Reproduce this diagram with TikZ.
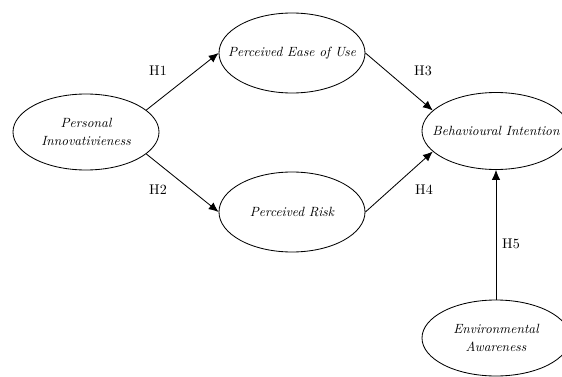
\documentclass[tikz,border=0pt]{standalone}
\usepackage{tikz}
\usetikzlibrary{arrows.meta,shapes.geometric,positioning}

\begin{document}
\begin{tikzpicture}[>={Latex[length=7pt,width=6pt]},
    construct/.style={draw,ellipse,line width=0.6pt,minimum width=3.65cm,minimum height=2cm,
      align=center,font=\fontsize{9.5}{11}\selectfont\itshape,inner xsep=-0.4cm,inner ysep=0pt},
    hyp/.style={font=\normalsize},
    path/.style={->,line width=0.6pt}]
  \useasboundingbox (0,0) rectangle (14.05,9.4);
  % constructs
  \node[construct,minimum height=1.9cm] (pi) at (2.15,6.1) {Personal\\[2pt]Innovativieness};
  \node[construct] (peou) at (7.3,8.075) {Perceived Ease of Use};
  \node[construct] (pr) at (7.3,4.1) {Perceived Risk};
  \node[construct,minimum width=3.7cm,minimum height=1.925cm] (bi) at (12.4,6.125) {Behavioural Intention};
  \node[construct,minimum width=3.7cm,minimum height=1.9cm] (ea) at (12.4,0.95) {Environmental\\[2pt]Awareness};
  % hypotheses
  \draw[path] (pi.20) -- (peou.west);
  \draw[path] (pi.-20) -- (pr.west);
  \draw[path] (peou.east) -- (bi.162);
  \draw[path] (pr.east) -- (bi.198);
  \draw[path] (ea.north) -- (bi.south);
  \node[hyp] (h1) at (3.95,7.625) {H1};
  \node[hyp] (h2) at (3.95,4.65) {H2};
  \node[hyp] (h3) at (10.575,7.625) {H3};
  \node[hyp] (h4) at (10.6,4.65) {H4};
  \node[hyp] (h5) at (12.775,3.3) {H5};
\end{tikzpicture}
\end{document}
